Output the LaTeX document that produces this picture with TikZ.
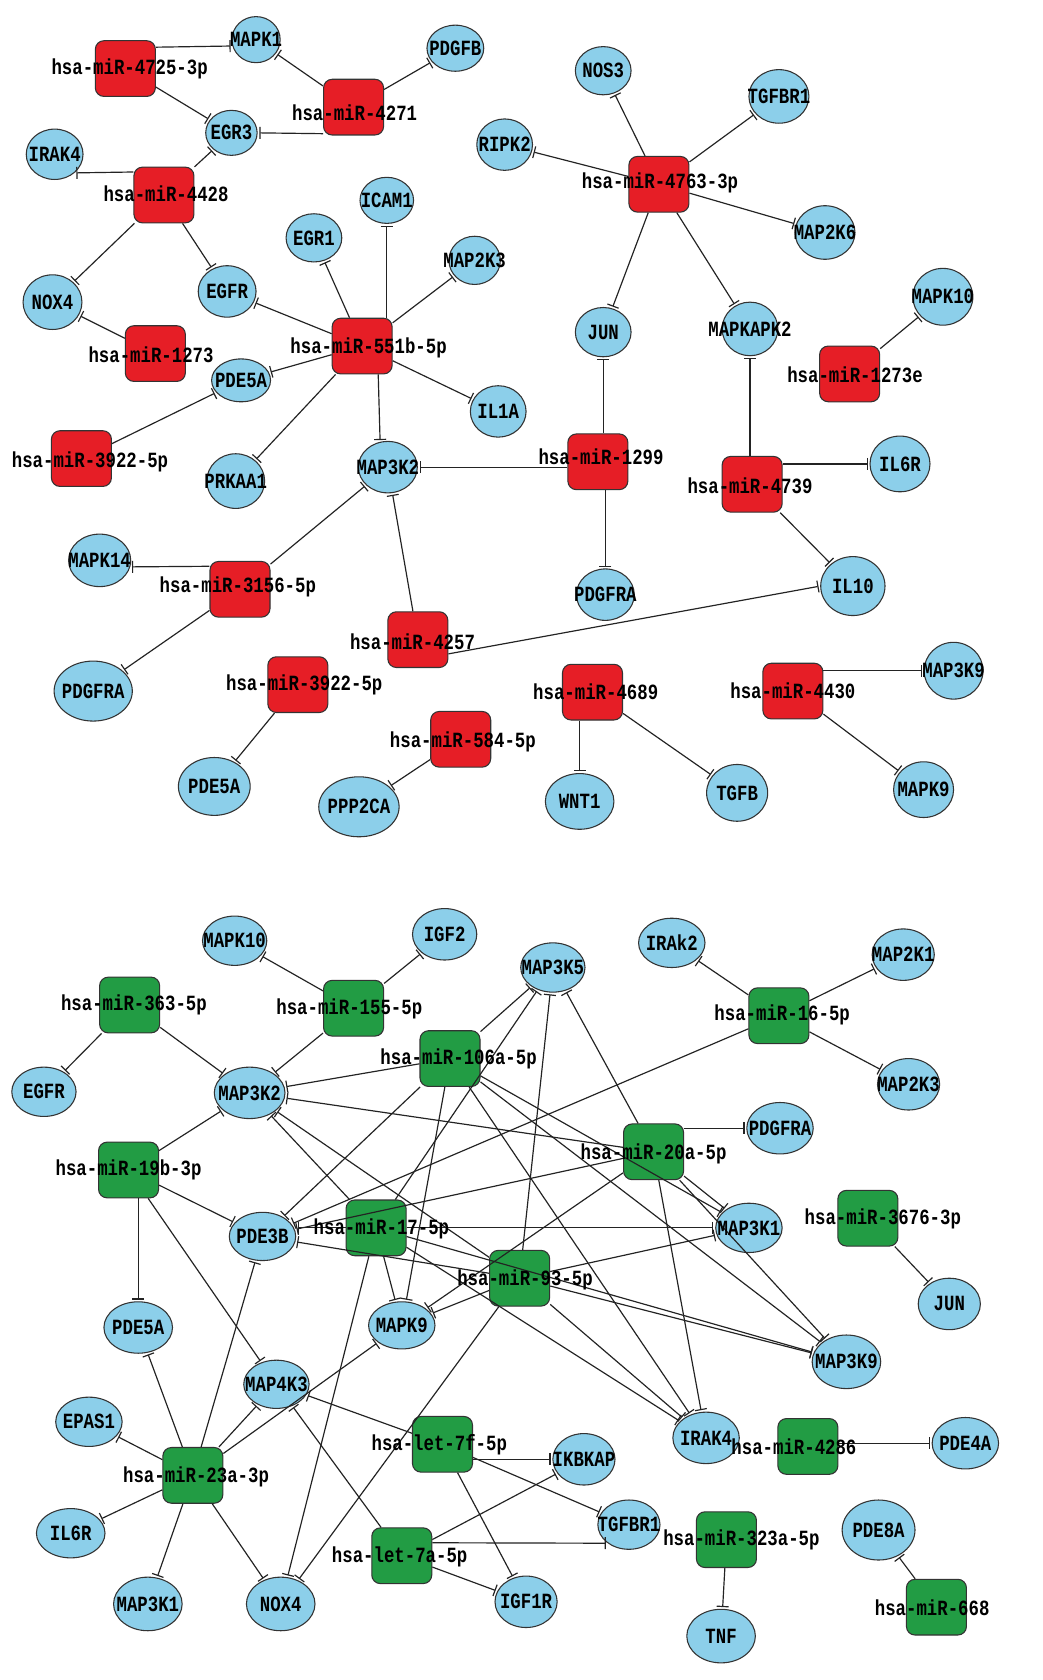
\documentclass[tikz,border=0pt]{standalone}
\usepackage{fontspec}
\usepackage{graphicx}
\usetikzlibrary{shapes.geometric,arrows.meta,calc}
\newfontfamily\labfont{Liberation Mono}
\definecolor{mirred}{RGB}{230,30,38}
\definecolor{mirgreen}{RGB}{34,156,68}
\definecolor{geneblue}{RGB}{140,207,234}
\definecolor{edgecol}{RGB}{35,35,35}
\pgfdeclarelayer{fg}
\pgfsetlayers{main,fg}
\tikzset{
 sq/.style={rectangle, rounded corners=4pt, minimum width=28pt, minimum height=26pt, inner sep=0pt, draw=black!80, line width=0.5pt},
 gene/.style={ellipse, minimum width=30pt, minimum height=23pt, inner sep=0pt, draw=black!80, line width=0.5pt, fill=geneblue},
 lab/.style={font=\labfont\bfseries\fontsize{8.1pt}{9pt}\selectfont, inner sep=0pt},
 inh/.style={draw=edgecol, line width=0.55pt, -{Bar[width=5.6pt,line width=0.55pt]}, shorten >=0.8pt},
}
\newcommand\Gn[5][]{\node[gene,#1] (#2) at (#3,#4) {};
 \begin{pgfonlayer}{fg}\node[lab] (#2-t) at (#3,#4) {\scalebox{1}[1.25]{#5}};\end{pgfonlayer}}
\newcommand\Mr[7]{\node[sq,fill=#7] (#1) at (#2,#3) {};
 \begin{pgfonlayer}{fg}\node[lab] (#1-t) at (#4,#5) {\scalebox{1}[1.25]{#6}};\end{pgfonlayer}}
\begin{document}
\begin{tikzpicture}[x=0.5pt,y=-0.5pt]
\fill[white] (0,0) rectangle (973,1568);
\useasboundingbox (0,0) rectangle (973,1568);
% ---------------- top network ----------------
\Mr{aM4725}{117}{64}{121}{64}{hsa-miR-4725-3p}{mirred}
\Mr{aM4271}{330}{100}{331}{105}{hsa-miR-4271}{mirred}
\Mr{aM4428}{153}{182}{155}{181}{hsa-miR-4428}{mirred}
\Mr{aM4763}{615}{172}{616}{171}{hsa-miR-4763-3p}{mirred}
\Mr{aM1273}{145}{330}{141}{331}{hsa-miR-1273}{mirred}
\Mr{aM551b}{338}{323}{344}{325}{hsa-miR-551b-5p}{mirred}
\Mr{aM1273e}{793}{349}{798}{350}{hsa-miR-1273e}{mirred}
\Mr{aM3922a}{76}{428}{84}{431}{hsa-miR-3922-5p}{mirred}
\Mr{aM1299}{558}{431}{561}{426}{hsa-miR-1299}{mirred}
\Mr{aM4739}{702}{452}{700}{453}{hsa-miR-4739}{mirred}
\Mr{aM3156}{224}{550}{222}{548}{hsa-miR-3156-5p}{mirred}
\Mr{aM4257}{390}{597}{385}{599}{hsa-miR-4257}{mirred}
\Mr{aM3922b}{278}{639}{284}{639}{hsa-miR-3922-5p}{mirred}
\Mr{aM4689}{553}{646}{556}{646}{hsa-miR-4689}{mirred}
\Mr{aM4430}{740}{645}{740}{645}{hsa-miR-4430}{mirred}
\Mr{aM584}{430}{690}{432}{692}{hsa-miR-584-5p}{mirred}

\Gn[minimum width=22.5pt,minimum height=21.5pt]{aMAPK1}{239}{37}{MAPK1}
\Gn[minimum width=26.5pt,minimum height=21.5pt]{aPDGFB}{425}{45}{PDGFB}
\Gn[minimum width=24pt,minimum height=21pt]{aEGR3}{216}{124}{EGR3}
\Gn[minimum width=26.5pt,minimum height=23.5pt]{aIRAK4}{51}{144}{IRAK4}
\Gn[minimum width=26pt,minimum height=22.5pt]{aNOS3}{563}{66}{NOS3}
\Gn[minimum width=28pt,minimum height=25pt]{aTGFBR1}{727}{90}{TGFBR1}
\Gn[minimum width=26pt,minimum height=24pt]{aRIPK2}{471}{135}{RIPK2}
\Gn[minimum width=25pt,minimum height=21.5pt]{aICAM1}{361}{187}{ICAM1}
\Gn[minimum width=26pt,minimum height=22.5pt]{aEGR1}{293}{222}{EGR1}
\Gn[minimum width=24pt,minimum height=22.5pt]{aMAP2K3}{443}{243}{MAP2K3}
\Gn[minimum width=28pt,minimum height=25pt]{aMAP2K6}{770}{217}{MAP2K6}
\Gn[minimum width=27.5pt,minimum height=25.5pt]{aNOX4}{49}{282}{NOX4}
\Gn[minimum width=27pt,minimum height=24pt]{aEGFR}{212}{272}{EGFR}
\Gn[minimum width=26pt,minimum height=23pt]{aJUN}{563}{310}{JUN}
\Gn[minimum width=26pt,minimum height=25pt]{aMAPKAPK2}{700}{307}{MAPKAPK2}
\Gn[minimum width=28pt,minimum height=26.5pt]{aMAPK10}{880}{277}{MAPK10}
\Gn[minimum width=27.5pt,minimum height=20pt]{aPDE5A}{225}{355}{PDE5A}
\Gn[minimum width=26pt,minimum height=24pt]{aIL1A}{465}{384}{IL1A}
\Gn[minimum width=27pt,minimum height=25.5pt]{aPRKAA1}{220}{449}{PRKAA1}
\Gn[minimum width=27.5pt,minimum height=24pt]{aMAP3K2}{362}{436}{MAP3K2}
\Gn[minimum width=28pt,minimum height=26pt]{aIL6R}{840}{433}{IL6R}
\Gn[minimum width=29pt,minimum height=24.5pt]{aMAPK14}{93}{523}{MAPK14}
\Gn[minimum width=27pt,minimum height=24pt]{aPDGFRAm}{565}{555}{PDGFRA}
\Gn[minimum width=30pt,minimum height=27.5pt]{aIL10}{796}{547}{IL10}
\Gn[minimum width=36.5pt,minimum height=28pt]{aPDGFRAl}{87}{645}{PDGFRA}
\Gn[minimum width=27.5pt,minimum height=26.5pt]{aMAP3K9}{890}{626}{MAP3K9}
\Gn[minimum width=33.5pt,minimum height=27pt]{aPDE5Al}{200}{734}{PDE5A}
\Gn[minimum width=37.5pt,minimum height=28pt]{aPPP2CA}{335}{753}{PPP2CA}
\Gn[minimum width=32pt,minimum height=26pt]{aWNT1}{541}{748}{WNT1}
\Gn[minimum width=28.5pt,minimum height=26.5pt]{aTGFB}{688}{740}{TGFB}
\Gn[minimum width=28pt,minimum height=26pt]{aMAPK9}{862}{737}{MAPK9}

\draw[inh] (aM4725.35) -- (aMAPK1.195);
\draw[inh] (aM4725) -- (aEGR3);
\draw[inh] (aM4271) -- (aMAPK1);
\draw[inh] (aM4271) -- (aPDGFB);
\draw[inh] (aM4271.221) -- (aEGR3.east);
\draw[inh] (aM4428.143) -- (aIRAK4.-43);
\draw[inh] (aM4428) -- (aEGR3);
\draw[inh] (aM4428) -- (aNOX4);
\draw[inh] (aM4428) -- (aEGFR);
\draw[inh] (aM1273) -- (aNOX4);
\draw[inh] (aM551b) -- (aEGFR);
\draw[inh] (aM551b) -- (aEGR1);
\draw[inh] (aM551b.north -| aICAM1) -- (aICAM1.south);
\draw[inh] (aM551b) -- (aMAP2K3);
\draw[inh] (aM551b) -- (aPDE5A);
\draw[inh] (aM551b) -- (aIL1A);
\draw[inh] ($(aM551b.south)+(15,0)$) -- (aMAP3K2.107);
\draw[inh] (aM551b) -- (aPRKAA1);
\draw[inh] (aM3922a) -- (aPDE5A);
\draw[inh] (aM3156.143) -- (aMAPK14.-12);
\draw[inh] (aM3156) -- (aMAP3K2);
\draw[inh] (aM3156) -- (aPDGFRAl);
\draw[inh] (aM4257) -- (aMAP3K2);
\draw[inh] (aM4257.-25) -- (aIL10.west);
\draw[inh] (aM3922b) -- (aPDE5Al);
\draw[inh] (aM584) -- (aPPP2CA);
\draw[inh] (aM1299.west |- aMAP3K2) -- (aMAP3K2.east);
\draw[inh] (aM1299.north -| aJUN) -- (aJUN.south);
\draw[inh] (aM1299.south -| aPDGFRAm) -- (aPDGFRAm.north);
\draw[inh] (aM4763) -- (aNOS3);
\draw[inh] (aM4763) -- (aTGFBR1);
\draw[inh] (aM4763) -- (aRIPK2);
\draw[inh] (aM4763) -- (aMAP2K6);
\draw[inh] (aM4763) -- (aJUN);
\draw[inh] (aM4763) -- (aMAPKAPK2);
\draw[inh] (aM1273e) -- (aMAPK10);
\draw[inh] (aM4739.north -| aMAPKAPK2) -- (aMAPKAPK2.south);
\draw[inh] (aM4739.east |- aIL6R) -- (aIL6R.west);
\draw[inh] (aM4739) -- (aIL10);
\draw[inh] (aM4689.south -| aWNT1) -- (aWNT1.north);
\draw[inh] (aM4689) -- (aTGFB);
\draw[inh] (aM4430.east |- aMAP3K9) -- (aMAP3K9.west);
\draw[inh] (aM4430) -- (aMAPK9);

% ---------------- bottom network ----------------
\Mr{bM363}{121}{938}{125}{938}{hsa-miR-363-5p}{mirgreen}
\Mr{bM155}{330}{941}{326}{942}{hsa-miR-155-5p}{mirgreen}
\Mr{bM16}{727}{948}{730}{947}{hsa-miR-16-5p}{mirgreen}
\Mr{bM106a}{420}{988}{428}{988}{hsa-miR-106a-5p}{mirgreen}
\Mr{bM20a}{610}{1075}{610}{1077}{hsa-miR-20a-5p}{mirgreen}
\Mr{bM19b}{120}{1092}{120}{1092}{hsa-miR-19b-3p}{mirgreen}
\Mr{bM17}{351}{1146}{356}{1147}{hsa-miR-17-5p}{mirgreen}
\Mr{bM3676}{810}{1137}{824}{1138}{hsa-miR-3676-3p}{mirgreen}
\Mr{bM93}{485}{1193}{490}{1195}{hsa-miR-93-5p}{mirgreen}
\Mr{bM7f}{413}{1348}{410}{1348}{hsa-let-7f-5p}{mirgreen}
\Mr{bM4286}{754}{1350}{741}{1350}{hsa-miR-4286}{mirgreen}
\Mr{bM23a}{180}{1377}{183}{1378}{hsa-miR-23a-3p}{mirgreen}
\Mr{bM323a}{678}{1437}{692}{1437}{hsa-miR-323a-5p}{mirgreen}
\Mr{bM7a}{375}{1452}{373}{1453}{hsa-let-7a-5p}{mirgreen}
\Mr{bM668}{874}{1500}{870}{1501}{hsa-miR-668}{mirgreen}

\Gn{bMAPK10}{219}{878}{MAPK10}
\Gn[minimum height=24pt]{bIGF2}{415}{872}{IGF2}
\Gn{bMAP3K5}{516}{903}{MAP3K5}
\Gn[minimum width=31pt]{bIRAk2}{627}{880}{IRAk2}
\Gn[minimum width=29pt,minimum height=24pt]{bMAP2K1}{843}{891}{MAP2K1}
\Gn{bEGFR}{41}{1019}{EGFR}
\Gn[minimum width=33pt,minimum height=24pt]{bMAP3K2}{233}{1020}{MAP3K2}
\Gn[minimum width=29pt,minimum height=24pt]{bMAP2K3}{848}{1012}{MAP2K3}
\Gn[minimum width=31pt,minimum height=24pt]{bPDGFRA}{728}{1053}{PDGFRA}
\Gn[minimum width=31pt,minimum height=22.5pt]{bPDE3B}{245}{1154}{PDE3B}
\Gn[minimum width=31pt]{bMAP3K1}{699}{1146}{MAP3K1}
\Gn[minimum width=29pt,minimum height=24pt]{bJUN}{886}{1217}{JUN}
\Gn[minimum width=32pt,minimum height=24pt]{bPDE5A}{129}{1239}{PDE5A}
\Gn[minimum width=31pt,minimum height=22pt]{bMAPK9}{375}{1237}{MAPK9}
\Gn[minimum width=32pt,minimum height=25pt]{bMAP3K9}{790}{1271}{MAP3K9}
\Gn[minimum width=30.5pt,minimum height=22.5pt]{bMAP4K3}{258}{1292}{MAP4K3}
\Gn[minimum width=31pt]{bEPAS1}{83}{1327}{EPAS1}
\Gn[minimum width=31pt,minimum height=24pt]{bIRAK4}{659}{1342}{IRAK4}
\Gn[minimum width=31pt,minimum height=24pt]{bPDE4A}{901}{1347}{PDE4A}
\Gn[minimum width=29pt,minimum height=24pt]{bIKBKAP}{545}{1362}{IKBKAP}
\Gn[minimum width=32pt]{bIL6R}{66}{1431}{IL6R}
\Gn[minimum width=34pt,minimum height=28pt]{bPDE8A}{820}{1428}{PDE8A}
\Gn[minimum width=29pt]{bTGFBR1}{587}{1423}{TGFBR1}
\Gn[minimum width=32pt,minimum height=25pt]{bMAP3K1b}{138}{1497}{MAP3K1}
\Gn[minimum width=32pt,minimum height=25pt]{bNOX4}{262}{1497}{NOX4}
\Gn[minimum width=29pt,minimum height=24pt]{bIGF1R}{491}{1495}{IGF1R}
\Gn[minimum width=32pt,minimum height=25pt]{bTNF}{673}{1527}{TNF}

\draw[inh] (bM363) -- (bEGFR);
\draw[inh] (bM363) -- (bMAP3K2);
\draw[inh] (bM155) -- (bMAPK10);
\draw[inh] (bM155) -- (bIGF2);
\draw[inh] (bM155) -- (bMAP3K2);
\draw[inh] (bM16) -- (bIRAk2);
\draw[inh] (bM16) -- (bMAP2K1);
\draw[inh] (bM16) -- (bMAP2K3);
\draw[inh] (bM16) -- (bPDE3B);
\draw[inh] (bM106a) -- (bMAP3K5);
\draw[inh] (bM106a) -- (bMAP3K2);
\draw[inh] (bM106a) -- (bPDE3B);
\draw[inh] (bM106a) -- (bMAPK9);
\draw[inh] (bM106a) -- (bIRAK4);
\draw[inh] (bM106a) -- (bMAP3K1);
\draw[inh] (bM106a) -- (bMAP3K9);
\draw[inh] (bM20a.east |- bPDGFRA) -- (bPDGFRA.west);
\draw[inh] (bM20a) -- (bMAP3K5);
\draw[inh] (bM20a) -- (bMAP3K2);
\draw[inh] (bM20a) -- (bPDE3B);
\draw[inh] (bM20a) -- (bMAPK9);
\draw[inh] (bM20a) -- (bMAP3K1);
\draw[inh] (bM20a) -- (bIRAK4);
\draw[inh] (bM20a) -- (bMAP3K9);
\draw[inh] (bM17.west) -- (bPDE3B.east |- bM17.west);
\draw[inh] (bM17.east) -- (bMAP3K1.west);
\draw[inh] (bM17) -- (bMAP3K5);
\draw[inh] (bM17) -- (bMAP3K2);
\draw[inh] (bM17) -- (bMAPK9);
\draw[inh] (bM17) -- (bNOX4);
\draw[inh] (bM17) -- (bIRAK4);
\draw[inh] (bM17) -- (bMAP3K9);
\draw[inh] (bM93) -- (bMAP3K5);
\draw[inh] (bM93) -- (bMAP3K2);
\draw[inh] (bM93) -- (bMAP3K1);
\draw[inh] (bM93) -- (bMAPK9);
\draw[inh] (bM93) -- (bNOX4);
\draw[inh] (bM93) -- (bPDE3B);
\draw[inh] (bM93) -- (bIRAK4);
\draw[inh] (bM93) -- (bMAP3K9);
\draw[inh] (bM19b) -- (bMAP3K2);
\draw[inh] (bM19b) -- (bPDE3B);
\draw[inh] (bM19b.south -| bPDE5A) -- (bPDE5A.north);
\draw[inh] (bM19b) -- (bMAP4K3);
\draw[inh] (bM23a) -- (bPDE5A);
\draw[inh] (bM23a) -- (bEPAS1);
\draw[inh] (bM23a) -- (bIL6R);
\draw[inh] (bM23a) -- (bMAP3K1b);
\draw[inh] (bM23a) -- (bNOX4);
\draw[inh] (bM23a) -- (bPDE3B);
\draw[inh] (bM23a) -- (bMAP4K3);
\draw[inh] (bM23a) -- (bMAPK9);
\draw[inh] (bM7f.east |- bIKBKAP) -- (bIKBKAP.west);
\draw[inh] (bM7f) -- (bTGFBR1);
\draw[inh] (bM7f) -- (bIGF1R);
\draw[inh] (bM7f) -- (bMAP4K3);
\draw[inh] (bM7a.23) -- (bTGFBR1.221);
\draw[inh] (bM7a) -- (bIGF1R);
\draw[inh] (bM7a) -- (bIKBKAP);
\draw[inh] (bM7a) -- (bMAP4K3);
\draw[inh] (bM3676) -- (bJUN);
\draw[inh] (bM4286.east |- bPDE4A) -- (bPDE4A.west);
\draw[inh] (bM323a) -- (bTNF);
\draw[inh] (bM668) -- (bPDE8A);
\end{tikzpicture}
\end{document}
